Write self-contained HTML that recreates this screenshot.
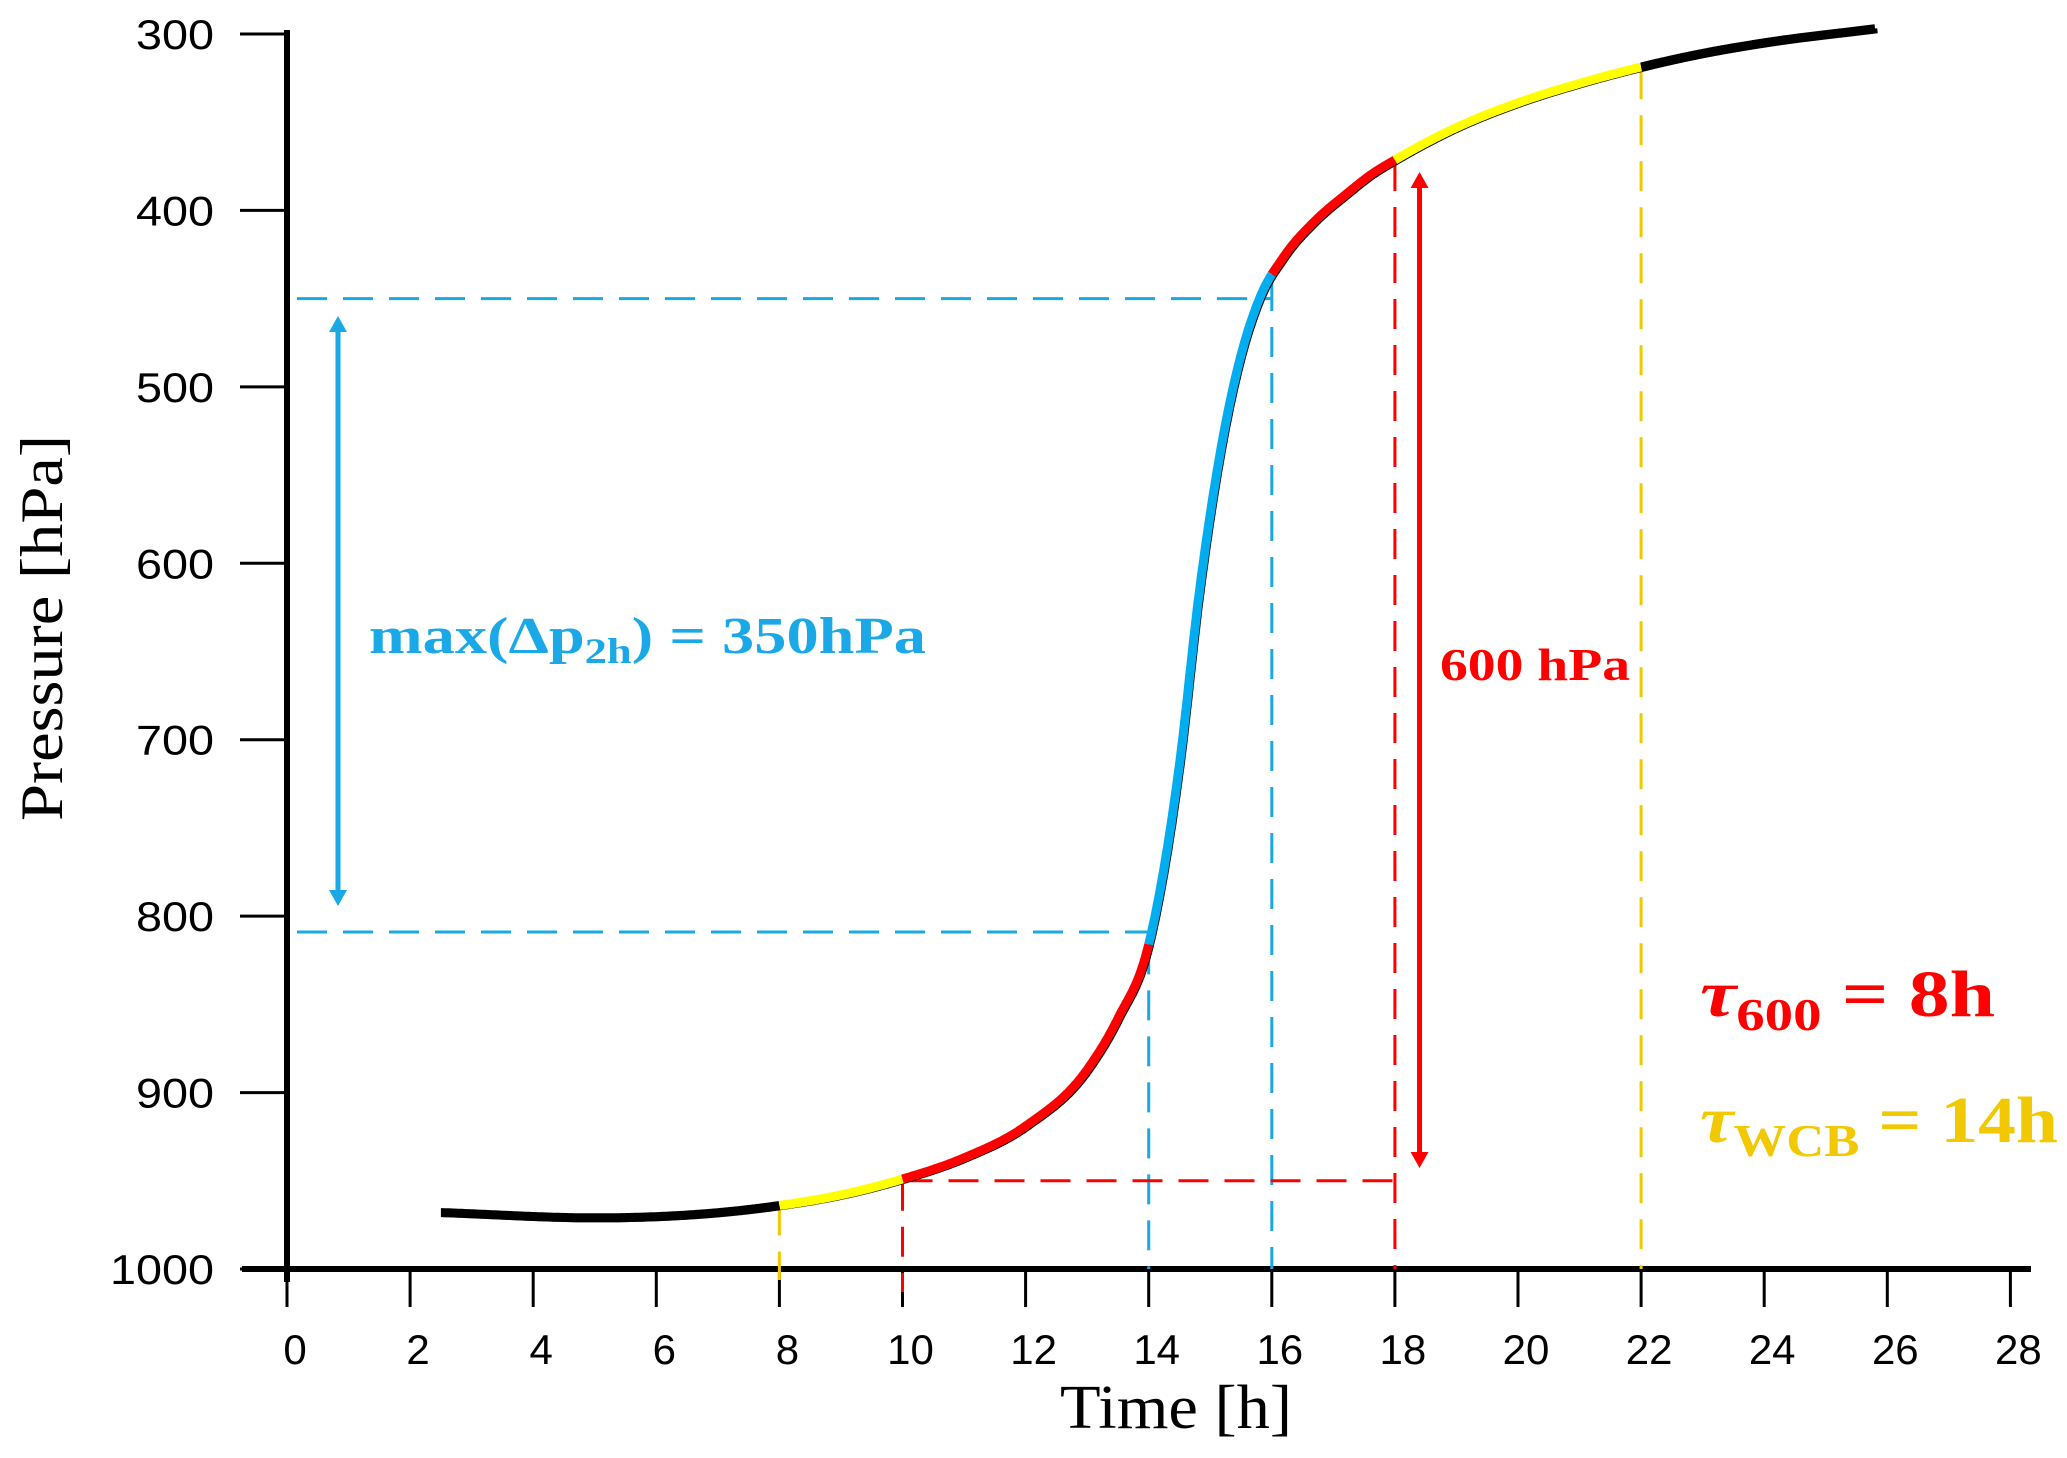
<!DOCTYPE html>
<html><head><meta charset="utf-8"><style>
html,body{margin:0;padding:0;background:#fff;}
svg{display:block;}
</style></head><body>
<svg id="chart" width="2067" height="1458" viewBox="0 0 2067 1458" xmlns="http://www.w3.org/2000/svg">
<g id="axes"></g>
<g id="guides"></g>
<g id="curve"></g>
<g id="labels"></g>
</svg>
<script>
const xTicks = [0,2,4,6,8,10,12,14,16,18,20,22,24,26,28];
const yTicks = [300,400,500,600,700,800,900,1000];
const curveT = [2.5,5,8,9,10,11,12,13,13.5,14,14.5,14.82,15.2,15.5,15.8,16.2,16.7,17.2,17.6,18.07,19,20,21,21.85,23,24,25.8];
const curveP = [968,971,964,958,949,937,919,887,858,816,714,617,530,482,450,426,406,391,380,370,353,339,328,320,311,305,297];
const segStart = [2.5,8,10,14,16,18,22];
const segEnd = [8,10,14,16,18,22,25.8];
const segColor = ["#000","#ffff00","#ff0000","#00aeef","#ff0000","#ffff00","#000"];

const NS="http://www.w3.org/2000/svg";
function X(t){return 287+t*61.55;}
function Y(p){return 34+(p-300)*1.7643;}
function mk(tag,attrs,parent,name){
  const e=document.createElementNS(NS,tag);
  for(const k in attrs)e.setAttribute(k,attrs[k]);
  
  
  parent.appendChild(e);return e;
}
const axes=document.getElementById('axes');
const guides=document.getElementById('guides');
const curve=document.getElementById('curve');
const labels=document.getElementById('labels');

mk('line',{x1:287,y1:30,x2:287,y2:1282,stroke:'#000','stroke-width':6},axes,'y-axis-line');
mk('line',{x1:242,y1:1269,x2:2031,y2:1269,stroke:'#000','stroke-width':6},axes,'x-axis-line');
yTicks.forEach(v=>{
  mk('line',{x1:240,y1:Y(v),x2:287,y2:Y(v),stroke:'#000','stroke-width':3},axes,'y-tick');
  const t=mk('text',{x:214,y:Y(v)+15,'text-anchor':'end','font-family':'Liberation Sans, sans-serif','font-size':42,textLength:String(v).length*26,lengthAdjust:'spacingAndGlyphs'},axes,'y-tick-label');
  t.textContent=v;
});
xTicks.forEach(v=>{
  mk('line',{x1:X(v),y1:1269,x2:X(v),y2:1307,stroke:'#000','stroke-width':3},axes,'x-tick');
  const t=mk('text',{x:X(v)+8,y:1364,'text-anchor':'middle','font-family':'Liberation Sans, sans-serif','font-size':42},axes,'x-tick-label');
  t.textContent=v;
});
const yt=mk('text',{x:0,y:0,'text-anchor':'middle','font-family':'Liberation Serif, serif','font-size':60,textLength:386,lengthAdjust:'spacingAndGlyphs',transform:'translate(62,628) rotate(-90)'},axes,'y-axis-title');
yt.textContent='Pressure [hPa]';
const xt=mk('text',{x:1176,y:1428,'text-anchor':'middle','font-family':'Liberation Serif, serif','font-size':62,textLength:232,lengthAdjust:'spacingAndGlyphs'},axes,'x-axis-title');
xt.textContent='Time [h]';

const n=curveT.length;
const dd=[],ms=[];
for(let i=0;i<n-1;i++)dd.push((curveP[i+1]-curveP[i])/(curveT[i+1]-curveT[i]));
ms.push(dd[0]);
for(let i=1;i<n-1;i++){
  if(dd[i-1]*dd[i]<=0){ms.push(0);continue;}
  const h0=curveT[i]-curveT[i-1],h1=curveT[i+1]-curveT[i];
  ms.push((dd[i-1]*h1+dd[i]*h0)/(h0+h1));
}
ms.push(dd[n-2]);
for(let i=0;i<n-1;i++){
  if(dd[i]===0){ms[i]=0;ms[i+1]=0;continue;}
  const a=ms[i]/dd[i],b=ms[i+1]/dd[i];const s=a*a+b*b;
  if(s>9){const tau=3/Math.sqrt(s);ms[i]=tau*a*dd[i];ms[i+1]=tau*b*dd[i];}
}
function interp(t){
  let i=0;while(i<n-2&&t>curveT[i+1])i++;
  const h=curveT[i+1]-curveT[i];const u=(t-curveT[i])/h;
  const u2=u*u,u3=u2*u;
  return (2*u3-3*u2+1)*curveP[i]+(u3-2*u2+u)*h*ms[i]+(-2*u3+3*u2)*curveP[i+1]+(u3-u2)*h*ms[i+1];
}
function pts(a,b,dx,dy){
  const r=[];const k=Math.ceil((b-a)*60);
  for(let j=0;j<=k;j++){const t=a+(b-a)*j/k;r.push((X(t)+dx).toFixed(1)+','+(Y(interp(t))+dy).toFixed(1));}
  return r.join(' ');
}

const dash='30,16';
mk('line',{x1:297,y1:Y(450),x2:X(16),y2:Y(450),stroke:'#1aa9e6','stroke-width':3,'stroke-dasharray':dash},guides,'blue-guide-450');
mk('line',{x1:297,y1:Y(809),x2:X(14),y2:Y(809),stroke:'#1aa9e6','stroke-width':3,'stroke-dasharray':dash},guides,'blue-guide-809');
mk('line',{x1:X(14),y1:Y(816),x2:X(14),y2:1269,stroke:'#1aa9e6','stroke-width':3,'stroke-dasharray':dash},guides,'blue-guide-t14');
mk('line',{x1:X(16),y1:Y(440),x2:X(16),y2:1269,stroke:'#1aa9e6','stroke-width':3,'stroke-dasharray':dash},guides,'blue-guide-t16');
mk('line',{x1:X(10),y1:Y(950),x2:X(18),y2:Y(950),stroke:'#ff0000','stroke-width':3,'stroke-dasharray':dash},guides,'red-guide-950');
mk('line',{x1:X(10),y1:Y(950),x2:X(10),y2:1292,stroke:'#ff0000','stroke-width':3,'stroke-dasharray':dash},guides,'red-guide-t10');
mk('line',{x1:X(18),y1:Y(372),x2:X(18),y2:1269,stroke:'#ff0000','stroke-width':3,'stroke-dasharray':dash},guides,'red-guide-t18');
mk('line',{x1:X(8),y1:Y(964),x2:X(8),y2:1280,stroke:'#f2c800','stroke-width':3,'stroke-dasharray':dash},guides,'yellow-guide-t8');
mk('line',{x1:X(22),y1:Y(320),x2:X(22),y2:1269,stroke:'#f2c800','stroke-width':3,'stroke-dasharray':dash},guides,'yellow-guide-t22');

mk('polyline',{points:pts(curveT[0],curveT[n-1],2.5,2),fill:'none',stroke:'#000','stroke-width':5},curve,'curve-shadow');
for(let s=0;s<segStart.length;s++){
  mk('polyline',{points:pts(segStart[s],segEnd[s],0,0),fill:'none',stroke:segColor[s],'stroke-width':9},curve,'curve-segment');
}

function arrow(x,y1,y2,col,name){
  mk('line',{x1:x,y1:y1+12,x2:x,y2:y2-12,stroke:col,'stroke-width':5},labels,name);
  mk('polygon',{points:`${x-9},${y1+16} ${x},${y1} ${x+9},${y1+16}`,fill:col},labels,name+'-head-top');
  mk('polygon',{points:`${x-9},${y2-16} ${x},${y2} ${x+9},${y2-16}`,fill:col},labels,name+'-head-bottom');
}
arrow(338,316,906,'#1aa9e6','blue-arrow');
arrow(X(18.4),172,1168,'#ff0000','red-arrow');

const bt=mk('text',{x:369,y:653,'font-family':'Liberation Serif, serif','font-weight':'bold','font-size':52,fill:'#1aa9e6',textLength:557,lengthAdjust:'spacingAndGlyphs'},labels,'max-dp-label');
bt.innerHTML='max(Δp<tspan font-size="36" dy="10">2h</tspan><tspan dy="-10">) = 350hPa</tspan>';
const rt=mk('text',{x:1440,y:680,'font-family':'Liberation Serif, serif','font-weight':'bold','font-size':46,fill:'#ff0000',textLength:190,lengthAdjust:'spacingAndGlyphs'},labels,'600-hpa-label');
rt.textContent='600 hPa';
const t1=mk('text',{x:1700,y:1016,'font-family':'Liberation Serif, serif','font-weight':'bold','font-size':66,fill:'#ff0000',textLength:295,lengthAdjust:'spacingAndGlyphs'},labels,'tau-600-label');
t1.innerHTML='<tspan font-style="italic">τ</tspan><tspan font-size="46" dy="14">600</tspan><tspan dy="-14"> = 8h</tspan>';
const t2=mk('text',{x:1700,y:1142,'font-family':'Liberation Serif, serif','font-weight':'bold','font-size':66,fill:'#f2c800',textLength:358,lengthAdjust:'spacingAndGlyphs'},labels,'tau-wcb-label');
t2.innerHTML='<tspan font-style="italic">τ</tspan><tspan font-size="46" dy="14">WCB</tspan><tspan dy="-14"> = 14h</tspan>';
</script>
</body></html>
